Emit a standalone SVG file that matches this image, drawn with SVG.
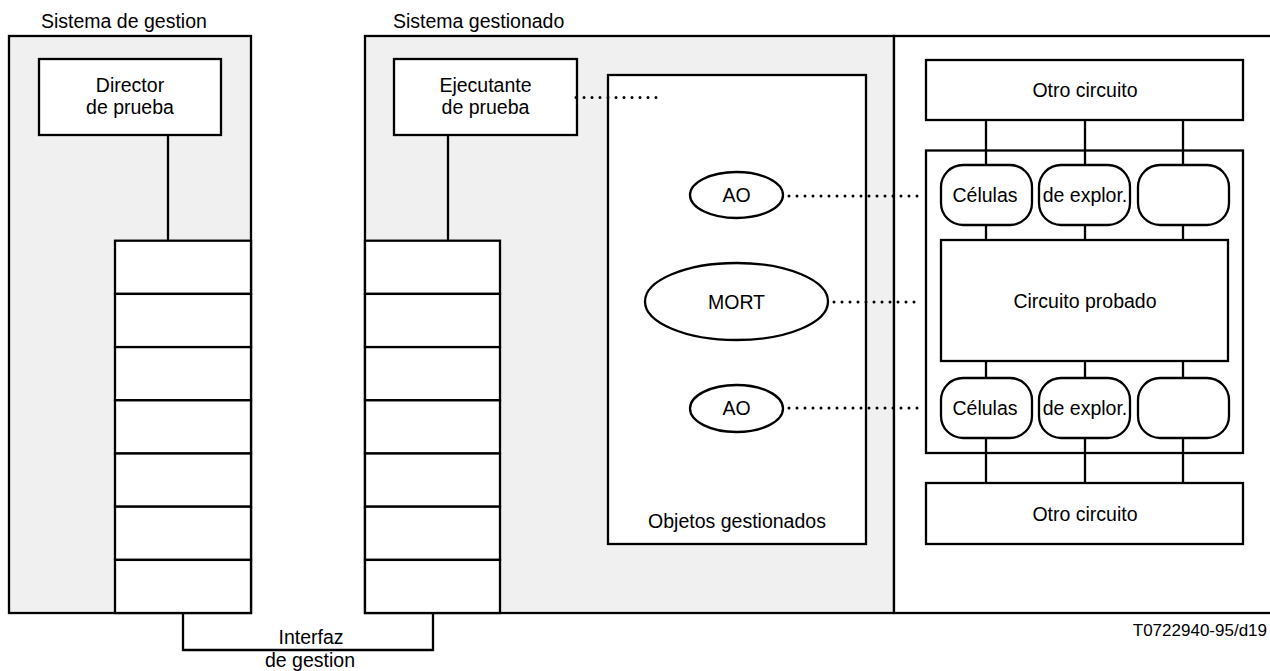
<svg xmlns="http://www.w3.org/2000/svg" width="1270" height="671" viewBox="0 0 1270 671">
<style>
.b{fill:#fff;stroke:#000;stroke-width:2.3}
.g{fill:#f0f0f0;stroke:#000;stroke-width:2.3}
.l{fill:none;stroke:#000;stroke-width:2.3}
.d{fill:none;stroke:#000;stroke-width:3;stroke-linecap:round;stroke-dasharray:0 8}
text{font-family:"Liberation Sans",Arial,sans-serif;font-size:19.5px;fill:#000}
.m{text-anchor:middle}
</style>
<rect width="1270" height="671" fill="#fff"/>
<text x="41" y="28">Sistema de gestion</text>
<text x="393" y="28">Sistema gestionado</text>
<g id="sistema-gestion">
<rect class="g" x="9" y="36" width="242" height="577"/>
</g>
<g id="sistema-gestionado">
<rect class="g" x="365" y="36" width="529" height="577"/>
<rect class="b" x="894" y="36" width="390" height="577"/>
</g>
<g id="director">
<rect class="b" x="39" y="59" width="182" height="76"/>
<text class="m" x="130" y="92">Director</text>
<text class="m" x="130" y="114">de prueba</text>
</g>
<g id="stack-left">
<rect class="b" x="115" y="240.7" width="136" height="53.2"/>
<rect class="b" x="115" y="293.9" width="136" height="53.2"/>
<rect class="b" x="115" y="347.1" width="136" height="53.2"/>
<rect class="b" x="115" y="400.3" width="136" height="53.2"/>
<rect class="b" x="115" y="453.5" width="136" height="53.2"/>
<rect class="b" x="115" y="506.7" width="136" height="53.2"/>
<rect class="b" x="115" y="559.9" width="136" height="53.1"/>
</g>
<g id="ejecutante">
<rect class="b" x="394" y="59" width="183" height="76"/>
<text class="m" x="485.5" y="92">Ejecutante</text>
<text class="m" x="485.5" y="114">de prueba</text>
</g>
<g id="stack-right">
<rect class="b" x="365" y="240.7" width="135" height="53.2"/>
<rect class="b" x="365" y="293.9" width="135" height="53.2"/>
<rect class="b" x="365" y="347.1" width="135" height="53.2"/>
<rect class="b" x="365" y="400.3" width="135" height="53.2"/>
<rect class="b" x="365" y="453.5" width="135" height="53.2"/>
<rect class="b" x="365" y="506.7" width="135" height="53.2"/>
<rect class="b" x="365" y="559.9" width="135" height="53.1"/>
</g>
<g id="objetos">
<rect class="b" x="608" y="75" width="258" height="469"/>
<text class="m" x="737" y="528">Objetos gestionados</text>
</g>
<g id="ao-top">
<ellipse class="b" cx="736.5" cy="195" rx="46.5" ry="23"/>
<text class="m" x="736.5" y="202">AO</text>
</g>
<g id="mort">
<ellipse class="b" cx="736.5" cy="301.5" rx="91.5" ry="38.5"/>
<text class="m" x="736.5" y="309">MORT</text>
</g>
<g id="ao-bottom">
<ellipse class="b" cx="736.5" cy="408.5" rx="46.5" ry="23.5"/>
<text class="m" x="736.5" y="415">AO</text>
</g>
<g id="connectors">
<line class="l" x1="168" y1="135" x2="168" y2="240.7"/>
<line class="l" x1="448" y1="135" x2="448" y2="240.7"/>
<polyline class="l" points="183,613 183,650 433,650 433,613"/>
<line class="l" x1="986" y1="120" x2="986" y2="165"/>
<line class="l" x1="1085" y1="120" x2="1085" y2="165"/>
<line class="l" x1="1183" y1="120" x2="1183" y2="165"/>
<line class="l" x1="986" y1="225" x2="986" y2="240"/>
<line class="l" x1="1085" y1="225" x2="1085" y2="240"/>
<line class="l" x1="1183" y1="225" x2="1183" y2="240"/>
<line class="l" x1="986" y1="361" x2="986" y2="378"/>
<line class="l" x1="1085" y1="361" x2="1085" y2="378"/>
<line class="l" x1="1183" y1="361" x2="1183" y2="378"/>
<line class="l" x1="986" y1="438" x2="986" y2="483"/>
<line class="l" x1="1085" y1="438" x2="1085" y2="483"/>
<line class="l" x1="1183" y1="438" x2="1183" y2="483"/>
<line class="d" x1="576" y1="97.5" x2="664" y2="97.5"/>
<line class="d" x1="789" y1="196" x2="925" y2="196"/>
<line class="d" x1="834" y1="302" x2="922" y2="302"/>
<line class="d" x1="789" y1="408" x2="925" y2="408"/>
</g>
<g id="otro-top">
<rect class="b" x="926" y="60" width="317" height="60"/>
<text class="m" x="1085" y="97">Otro circuito</text>
</g>
<g id="celulas-container">
<rect class="l" x="926" y="150.5" width="317" height="302.5"/>
</g>
<g id="cells-top">
<rect class="b" x="941" y="165" width="91" height="60" rx="22"/>
<rect class="b" x="1039" y="165" width="91" height="60" rx="22"/>
<rect class="b" x="1138" y="165" width="91" height="60" rx="22"/>
<text class="m" x="985" y="202">Células</text>
<text class="m" x="1085" y="202">de explor.</text>
</g>
<g id="circuito-probado">
<rect class="b" x="941" y="240" width="287" height="121"/>
<text class="m" x="1085" y="308">Circuito probado</text>
</g>
<g id="cells-bottom">
<rect class="b" x="941" y="378" width="91" height="60" rx="22"/>
<rect class="b" x="1039" y="378" width="91" height="60" rx="22"/>
<rect class="b" x="1138" y="378" width="91" height="60" rx="22"/>
<text class="m" x="985" y="415">Células</text>
<text class="m" x="1085" y="415">de explor.</text>
</g>
<g id="otro-bottom">
<rect class="b" x="926" y="483" width="317" height="61"/>
<text class="m" x="1085" y="521">Otro circuito</text>
</g>
<text class="m" x="311" y="644">Interfaz</text>
<text class="m" x="310" y="667">de gestion</text>
<text x="1267" y="636" style="font-size:17px;text-anchor:end">T0722940-95/d19</text>
</svg>
